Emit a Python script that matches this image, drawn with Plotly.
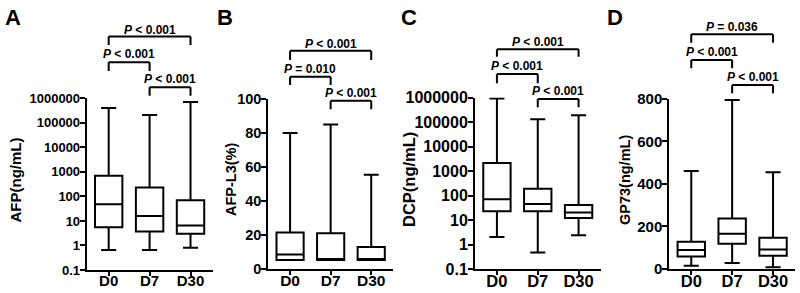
import plotly.graph_objects as go

W, H = 800, 293
FONT = "Liberation Sans, Arial, sans-serif"

categories = ["D0", "D7", "D30"]

# Panel A: AFP (ng/mL), log scale
afp_min = [0.65, 0.65, 0.8]
afp_q1 = [5.5, 3.7, 3.0]
afp_med = [48, 16, 6.5]
afp_q3 = [700, 230, 70]
afp_max = [400000, 210000, 700000]

# Panel B: AFP-L3 (%)
l3_min = [5.3, 5.3, 5.3]
l3_q1 = [5.3, 5.3, 5.3]
l3_med = [8.5, 5.3, 5.3]
l3_q3 = [21.5, 21, 13]
l3_max = [80, 85, 55.5]

# Panel C: DCP (ng/mL), log scale
dcp_min = [2.0, 0.47, 2.4]
dcp_q1 = [23, 23, 12]
dcp_med = [70, 45, 20]
dcp_q3 = [2100, 190, 41]
dcp_max = [900000, 130000, 190000]

# Panel D: GP73 (ng/mL)
gp_min = [14, 27, 7]
gp_q1 = [58, 118, 61]
gp_med = [88, 165, 90]
gp_q3 = [127, 237, 146]
gp_max = [460, 795, 455]

log_ticks = [0.1, 1, 10, 100, 1000, 10000, 100000, 1000000]
log_ticktext = ["0.1", "1", "10", "100", "1000", "10000", "100000", "1000000"]

# comparisons: (group a, group b, p label)
compare_A = [("D0", "D30", "<i>P</i> &lt; 0.001"), ("D0", "D7", "<i>P</i> &lt; 0.001"), ("D7", "D30", "<i>P</i> &lt; 0.001")]
compare_B = [("D0", "D30", "<i>P</i> &lt; 0.001"), ("D0", "D7", "<i>P</i> = 0.010"), ("D7", "D30", "<i>P</i> &lt; 0.001")]
compare_C = [("D0", "D30", "<i>P</i> &lt; 0.001"), ("D0", "D7", "<i>P</i> &lt; 0.001"), ("D7", "D30", "<i>P</i> &lt; 0.001")]
compare_D = [("D0", "D30", "<i>P</i> = 0.036"), ("D0", "D7", "<i>P</i> &lt; 0.001"), ("D7", "D30", "<i>P</i> &lt; 0.001")]

panels = [
    dict(letter="A", title="AFP(ng/mL)", data=(afp_min, afp_q1, afp_med, afp_q3, afp_max), log=True,
         x0=86.7, x1=212.5, ytop=98.3, ybot=270, tick=13, xtick=15, tsize=15, tx=14.5, lx=12.5,
         comps=compare_A, br=[(36.5, 45, 29.5), (62.3, 71, 54), (87.3, 95.7, 79.3)]),
    dict(letter="B", title="AFP-L3(%)", data=(l3_min, l3_q1, l3_med, l3_q3, l3_max), log=False, rng=[0, 100], dtick=20,
         x0=268.3, x1=393, ytop=99, ybot=269, tick=14.5, xtick=15.5, tsize=14.5, tx=231, lx=225,
         comps=compare_B, br=[(50.7, 60, 43.5), (76.7, 85, 69), (100.7, 109.3, 93)]),
    dict(letter="C", title="DCP(ng/mL)", data=(dcp_min, dcp_q1, dcp_med, dcp_q3, dcp_max), log=True,
         x0=475, x1=600.5, ytop=97.5, ybot=269, tick=16, xtick=16.5, tsize=16.5, tx=409, lx=409,
         comps=compare_C, br=[(49.3, 56.7, 41.5), (74, 83.3, 66), (99, 107.3, 91)]),
    dict(letter="D", title="GP73(ng/mL)", data=(gp_min, gp_q1, gp_med, gp_q3, gp_max), log=False, rng=[0, 800], dtick=200,
         x0=669.3, x1=795, ytop=99, ybot=268.7, tick=15, xtick=16.5, tsize=14.5, tx=625, lx=615,
         comps=compare_D, br=[(34.3, 42.7, 26.7), (60, 68.3, 52.3), (85, 93.3, 76.7)]),
]


def px(x):
    return x / W


def py(y):
    return 1 - y / H


fig = go.Figure()
shapes = []
annotations = []
layout = {}

for i, p in enumerate(panels):
    n = "" if i == 0 else str(i + 1)
    xa, ya = "x" + n, "y" + n
    lo, q1, med, q3, hi = p["data"]
    fig.add_trace(go.Box(
        x=categories, q1=q1, median=med, q3=q3, lowerfence=lo, upperfence=hi,
        boxpoints=False, fillcolor="white", line=dict(color="black", width=2),
        width=0.67, whiskerwidth=0.55, xaxis=xa, yaxis=ya, showlegend=False,
        hoverinfo="skip",
    ))
    layout["xaxis" + n] = dict(
        domain=[px(p["x0"]), px(p["x1"])], anchor=ya, type="category",
        categoryorder="array", categoryarray=categories, range=[-0.537, 2.537],
        showline=True, linecolor="black", linewidth=2, ticks="outside", ticklen=4,
        tickwidth=2, tickcolor="black", showgrid=False, zeroline=False,
        tickfont=dict(family=FONT, size=p["xtick"], color="black", weight="bold"),
        ticklabelstandoff=-8, automargin=False, fixedrange=True,
    )
    ydict = dict(
        domain=[py(p["ybot"]), py(p["ytop"])], anchor=xa,
        showline=True, linecolor="black", linewidth=2, ticks="outside", ticklen=5,
        tickwidth=2, tickcolor="black", showgrid=False, zeroline=False,
        tickfont=dict(family=FONT, size=p["tick"], color="black", weight="bold"),
        ticklabelstandoff=-3, automargin=False, fixedrange=True,
    )
    if p["log"]:
        ydict.update(type="log", range=[-1, 6], tickmode="array", tickvals=log_ticks, ticktext=log_ticktext)
    else:
        ydict.update(range=p["rng"], tickmode="linear", tick0=0, dtick=p["dtick"])
    layout["yaxis" + n] = ydict

    # y title
    annotations.append(dict(
        text=p["title"], x=px(p["tx"]), y=py(180), xref="paper", yref="paper",
        textangle=-90, showarrow=False, xanchor="center", yanchor="middle",
        font=dict(family=FONT, size=p["tsize"], color="black", weight="bold"),
    ))
    # panel letter
    annotations.append(dict(
        text=p["letter"], x=px(p["lx"]), y=py(17.5), xref="paper", yref="paper",
        showarrow=False, xanchor="center", yanchor="middle",
        font=dict(family=FONT, size=22, color="black", weight="bold"),
    ))
    # brackets
    for (g1, g2, lab), (yl, yb, yt) in zip(p["comps"], p["br"]):
        a, b = categories.index(g1), categories.index(g2)
        for xs, ys in [((a, a), (yb, yl)), ((a, b), (yl, yl)), ((b, b), (yl, yb))]:
            shapes.append(dict(
                type="line", xref=xa, yref="paper", x0=xs[0], x1=xs[1],
                y0=py(ys[0]), y1=py(ys[1]), line=dict(color="black", width=2),
            ))
        annotations.append(dict(
            text=lab, x=(a + b) / 2, y=py(yt), xref=xa, yref="paper",
            showarrow=False, xanchor="center", yanchor="middle",
            font=dict(family=FONT, size=12, color="black", weight="bold"),
        ))

fig.update_layout(
    width=W, height=H, margin=dict(l=0, r=0, t=0, b=0),
    plot_bgcolor="white", paper_bgcolor="white",
    shapes=shapes, annotations=annotations, showlegend=False,
    hovermode=False, **layout,
)

# remove the default 8px page margin so the figure fills the window exactly
fig.write_html("out.html", config={"displayModeBar": False, "staticPlot": True},
               post_script="document.body.style.margin='0';")
